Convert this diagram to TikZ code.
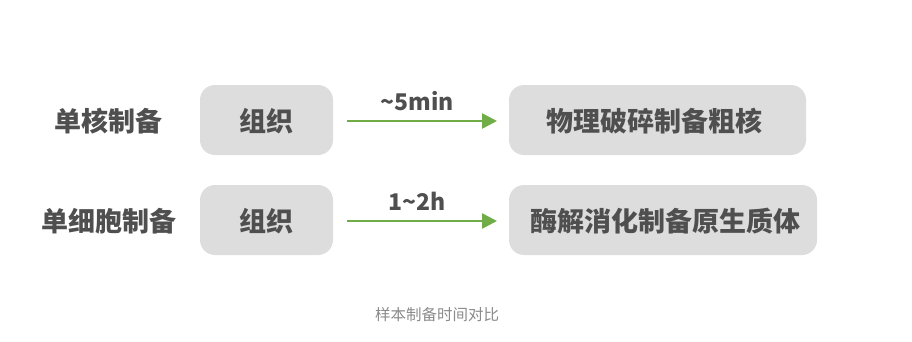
\documentclass[tikz,border=0pt]{standalone}
\usepackage{fontspec}
\newfontfamily\cjk{Noto Sans CJK SC}
\usetikzlibrary{arrows.meta}
\definecolor{boxgray}{HTML}{DDDDDD}
\definecolor{txtgray}{HTML}{4F4F4F}
\definecolor{arrgreen}{HTML}{70AD47}
\definecolor{capgray}{HTML}{8A8A8A}
\tikzset{
  stepbox/.style={fill=boxgray, rounded corners=15pt, inner sep=0pt},
  bigtext/.style={text=txtgray, font=\cjk\bfseries\fontsize{27}{29}\selectfont},
  timelabel/.style={text=txtgray, font=\cjk\bfseries\fontsize{23}{25}\selectfont},
  flow/.style={draw=arrgreen, line width=2.6pt, -{Triangle[length=15pt,width=15pt]}},
}
\begin{document}
\begin{tikzpicture}[x=1pt,y=-1pt]
\useasboundingbox (0,0) rectangle (912,341);
% row 1
\node[bigtext] (lab1) at (108,121) {单核制备};
\path[stepbox] (200,85) rectangle (333,155);
\node[bigtext] (t1) at (266.5,121) {组织};
\path[stepbox] (509,85) rectangle (806,155);
\node[bigtext] (r1) at (654,121) {物理破碎制备粗核};
\coordinate (a1s) at (347,121);
\coordinate (a1e) at (497,121);
\draw[flow] (a1s) -- (a1e);
\node[timelabel] (m1) at (417,101) {\textasciitilde5min};
% row 2
\node[bigtext] (lab2) at (109,221) {单细胞制备};
\path[stepbox] (200,185) rectangle (333,255);
\node[bigtext] (t2) at (266.5,221) {组织};
\path[stepbox] (509,185) rectangle (817,255);
\node[bigtext] (r2) at (665,221) {酶解消化制备原生质体};
\coordinate (a2s) at (347,221);
\coordinate (a2e) at (497,221);
\draw[flow] (a2s) -- (a2e);
\node[timelabel] (m2) at (417,201) {1\textasciitilde2h};
% caption
\node[text=capgray, font=\cjk\fontsize{15.5}{17}\selectfont] (cap) at (437,315) {样本制备时间对比};
\end{tikzpicture}
\end{document}
